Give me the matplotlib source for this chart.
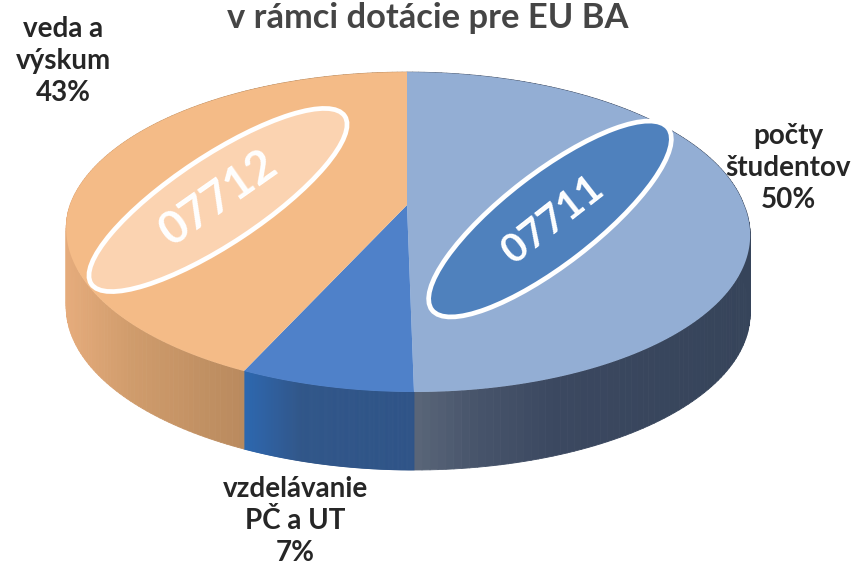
"""3D-look pie of the EU BA subsidy split, drawn on a pixel-sized axes."""

import matplotlib

matplotlib.use("Agg")
import matplotlib.pyplot as plt
import numpy as np
from matplotlib.collections import PolyCollection
from matplotlib.patches import Ellipse, Polygon

# data
categories = ["počty\nštudentov", "vzdelávanie\nPČ a UT", "veda a\nvýskum"]
shares = [50, 7, 43]
percent_labels = ["50%", "7%", "43%"]
title = "v rámci dotácie pre EU BA"
code_labels = ["07711", "07712"]

top_colors = ["#93aed4", "#4f81c9", "#f4bb87"]
side_stops = [
    ([414, 480, 560, 750], ["#5a6679", "#46536a", "#3b4860", "#36445a"]),
    ([243, 262, 300, 414], ["#2c68b0", "#2f62a4", "#305689", "#2f5488"]),
    ([65, 130, 243], ["#e6ac7c", "#d09c6c", "#b98a5e"]),
]
label_xy = [(788, 168), (295, 521), (63, 61)]

CX, CY = 407, 205
A, B, K = 337, 155.4, 0.169
DEPTH = 78


def project(theta):
    """theta is clockwise from the top of the pie, in radians."""
    u, v = np.sin(theta), np.cos(theta)
    w = 1 + K * v
    x = CX + A * u / w + 7 * np.clip(-v, 0, None)
    y = CY - B * v / w
    return x, y


def hex_rgb(color):
    return np.array(matplotlib.colors.to_rgb(color))


def side_colors(xs, stops):
    positions, colors = stops
    rgb = np.array([hex_rgb(c) for c in colors])
    return np.column_stack([np.interp(xs, positions, rgb[:, i]) for i in range(3)])


fig = plt.figure(figsize=(8.55, 5.65), dpi=100)
ax = fig.add_axes([0, 0, 1, 1])
ax.set_xlim(0, 855)
ax.set_ylim(565, 0)
ax.axis("off")

plt.rcParams["font.family"] = ["Lato", "DejaVu Sans"]

edges = np.concatenate([[0], np.cumsum(shares)]) / np.sum(shares) * 2 * np.pi
for i in range(len(shares)):
    theta = np.linspace(edges[i], edges[i + 1], 160)
    x, y = project(theta)

    quads = [
        [(x[j], y[j]), (x[j + 1], y[j + 1]), (x[j + 1], y[j + 1] + DEPTH), (x[j], y[j] + DEPTH)]
        for j in range(len(x) - 1)
    ]
    colors = side_colors((x[:-1] + x[1:]) / 2, side_stops[i])
    ax.add_collection(
        PolyCollection(quads, facecolors=colors, edgecolors=colors, linewidths=0.6, zorder=1)
    )

for i in range(len(shares)):
    theta = np.linspace(edges[i], edges[i + 1], 160)
    x, y = project(theta)
    points = np.column_stack([np.append(x, CX), np.append(y, CY)])
    ax.add_patch(Polygon(points, closed=True, facecolor=top_colors[i], edgecolor="none", zorder=2))

ax.add_patch(
    Ellipse((550, 219), 298, 92, angle=-37.6, facecolor="#4f81bd", edgecolor="white", linewidth=3.4, zorder=3)
)
ax.add_patch(
    Ellipse((218, 200), 304, 88, angle=-33.5, facecolor="#fbd3b1", edgecolor="white", linewidth=3.4, zorder=3)
)
ax.text(553, 220, code_labels[0], color="white", fontsize=29, fontweight="bold",
        rotation=38, rotation_mode="anchor", ha="center", va="center", zorder=4)
ax.text(219, 198, code_labels[1], color="white", fontsize=33, fontweight="bold",
        rotation=35, rotation_mode="anchor", ha="center", va="center", zorder=4)

ax.text(428, 18, title, color="#454545", fontsize=24.8, fontweight="bold", ha="center", va="center")

for name, pct, (lx, ly) in zip(categories, percent_labels, label_xy):
    ax.text(lx, ly, f"{name}\n{pct}", color="#262626", fontsize=20, fontweight="bold",
            ha="center", va="center", linespacing=1.3, zorder=5)

fig.savefig("out.png", dpi=100)
plt.close(fig)
